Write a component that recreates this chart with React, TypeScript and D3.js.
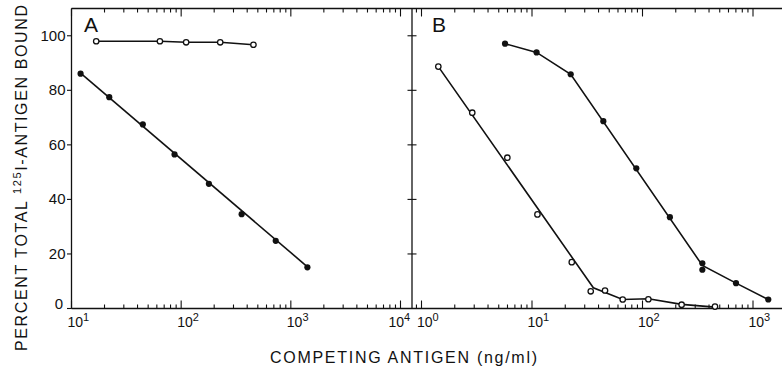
import React from "react";
import * as d3 from "d3";

// ---------- data ----------
const aOpenX = [16.8, 64, 111, 227, 456];
const aOpenY = [98.0, 98.0, 97.6, 97.6, 96.7];
const aFilledX = [12.1, 22.1, 44.7, 87, 179, 356, 728, 1416];
const aFilledY = [86.1, 77.5, 67.5, 56.5, 45.7, 34.6, 24.8, 15.1];
const aFilledFitX = [12.1, 1416];
const aFilledFitY = [86.3, 15.3];
const aOpenFitX = aOpenX;
const aOpenFitY = aOpenY;

const bOpenX = [1.42, 2.88, 5.98, 11.2, 22.9, 34, 45.8, 66.2, 113, 226, 453];
const bOpenY = [88.7, 71.8, 55.3, 34.5, 17.0, 6.3, 6.6, 3.3, 3.4, 1.4, 0.7];
const bOpenFitX = [1.42, 35.9, 66.2, 113, 226, 453];
const bOpenFitY = [88.7, 7.6, 3.3, 3.6, 1.5, 0.5];
const bFilledX = [5.7, 11.0, 22.4, 44.2, 87.9, 177, 348, 348, 702, 1375];
const bFilledY = [97.1, 93.9, 85.9, 68.7, 51.4, 33.5, 16.6, 14.2, 9.3, 3.3];
const bFilledFitX = [5.7, 11.0, 22.4, 348, 702, 1375];
const bFilledFitY = [97.1, 93.9, 85.9, 15.8, 9.3, 3.3];

const yTicks = [0, 20, 40, 60, 80, 100];
const aDecades = [1, 2, 3, 4];
const bDecades = [0, 1, 2, 3];

const FONT = "'Liberation Sans', Arial, sans-serif";

const zip = (xs: number[], ys: number[]) => xs.map((x, i) => [x, ys[i]] as [number, number]);

export default function App() {
  const W = 782, H = 369;
  const y = d3.scaleLinear().domain([0, 110]).range([308.5, 8.5]);
  const xA = d3.scaleLog().domain([10, 10000]).range([71.5, 400.5]);
  const xB = d3.scaleLog().domain([1, 1000]).range([421.5, 753]);
  const left = 71.5, mid = 412, right = 782;
  const top = y(110), bottom = y(0);

  const lineA = d3.line<[number, number]>().x(d => xA(d[0])).y(d => y(d[1]));
  const lineB = d3.line<[number, number]>().x(d => xB(d[0])).y(d => y(d[1]));

  const xTicks = (scale: any, decades: number[], lo: number, hi: number) => {
    const out: { x: number; major: boolean }[] = [];
    decades.forEach(d => {
      for (let m = 1; m <= 9; m++) {
        const v = m * Math.pow(10, d);
        const px = scale(v);
        if (px >= lo - 0.5 && px <= hi - 1) out.push({ x: px, major: m === 1 });
      }
    });
    return out;
  };
  const ticksA = xTicks(xA, [1, 2, 3, 4], left, mid);
  const ticksB = xTicks(xB, [-1, 0, 1, 2, 3], mid + 2, right + 1);
  const allTicks = [...ticksA, ...ticksB];

  const decadeLabel = (x: number, exp: number, key: string, dx = -5) => (
    <text key={key} x={x + dx} y={327} fontSize={14} fontFamily={FONT} fill="#111">
      10<tspan fontSize={11} dy={-6}>{exp}</tspan>
    </text>
  );

  const openDot = (cx: number, cy: number, k: string) => (
    <circle key={k} cx={cx} cy={cy} r={2.7} fill="#fff" stroke="#111" strokeWidth={1.3} />
  );
  const fillDot = (cx: number, cy: number, k: string) => (
    <circle key={k} cx={cx} cy={cy} r={3.1} fill="#111" />
  );

  return (
    <svg width={W} height={H} style={{ position: "absolute", left: 0, top: 0, background: "#fff" }}>
      <rect width={W} height={H} fill="#fff" />
      {/* frame */}
      <g stroke="#111" strokeWidth={1.3} fill="none">
        <line x1={left} y1={top} x2={right} y2={top} />
        <line x1={left} y1={bottom} x2={right} y2={bottom} />
        <line x1={left} y1={top} x2={left} y2={bottom} />
        <line x1={mid} y1={top} x2={mid} y2={bottom} />
      </g>
      {/* x ticks */}
      <g stroke="#111" strokeWidth={1.1}>
        {allTicks.map((t, i) => (
          <g key={i}>
            <line x1={t.x} x2={t.x} y1={top} y2={top + (t.major ? 8 : 4)} />
            <line x1={t.x} x2={t.x} y1={bottom} y2={bottom - (t.major ? 8 : 4)} />
          </g>
        ))}
      </g>
      {/* y ticks */}
      <g stroke="#111" strokeWidth={1.1}>
        {yTicks.map(v => (
          <g key={v}>
            <line x1={left - 4.5} x2={left} y1={y(v)} y2={y(v)} />
            {v > 0 && <line x1={mid - 4.5} x2={mid + 4.5} y1={y(v)} y2={y(v)} />}
          </g>
        ))}
      </g>
      {/* y tick labels */}
      {yTicks.map(v => (
        <text key={v} x={v === 0 ? 63 : 65.5} y={v === 0 ? y(v) : y(v) + 5} textAnchor="end"
          fontSize={15} fontFamily={FONT} fill="#111">{v}</text>
      ))}
      {/* x tick labels */}
      {aDecades.map(d => decadeLabel(xA(Math.pow(10, d)), d, "a" + d, d === 4 ? -12 : -4))}
      {bDecades.map(d => decadeLabel(xB(Math.pow(10, d)), d, "b" + d, -4.5))}

      {/* panel letters */}
      <text x={84} y={32} fontSize={21} fontFamily={FONT} fill="#111">A</text>
      <text x={432} y={32} fontSize={21} fontFamily={FONT} fill="#111">B</text>

      {/* lines */}
      <g fill="none" stroke="#111" strokeWidth={1.6}>
        <path d={lineA(zip(aOpenFitX, aOpenFitY)) || ""} />
        <path d={lineA(zip(aFilledFitX, aFilledFitY)) || ""} />
        <path d={lineB(zip(bOpenFitX, bOpenFitY)) || ""} />
        <path d={lineB(zip(bFilledFitX, bFilledFitY)) || ""} />
      </g>
      {/* points */}
      {zip(aOpenX, aOpenY).map((p, i) => openDot(xA(p[0]), y(p[1]), "ao" + i))}
      {zip(aFilledX, aFilledY).map((p, i) => fillDot(xA(p[0]), y(p[1]), "af" + i))}
      {zip(bOpenX, bOpenY).map((p, i) => openDot(xB(p[0]), y(p[1]), "bo" + i))}
      {zip(bFilledX, bFilledY).map((p, i) => fillDot(xB(p[0]), y(p[1]), "bf" + i))}

      {/* axis titles */}
      <text transform="translate(27,178) rotate(-90)" textAnchor="middle" fontSize={16}
        fontFamily={FONT} fill="#111" textLength={346} lengthAdjust="spacing">
        PERCENT TOTAL <tspan fontSize={11} dy={-6}>125</tspan><tspan dy={6}>I-ANTIGEN BOUND</tspan>
      </text>
      <text x={270} y={363} fontSize={16} fontFamily={FONT} fill="#111" textLength={267}
        lengthAdjust="spacing">COMPETING ANTIGEN (ng/ml)</text>
    </svg>
  );
}
